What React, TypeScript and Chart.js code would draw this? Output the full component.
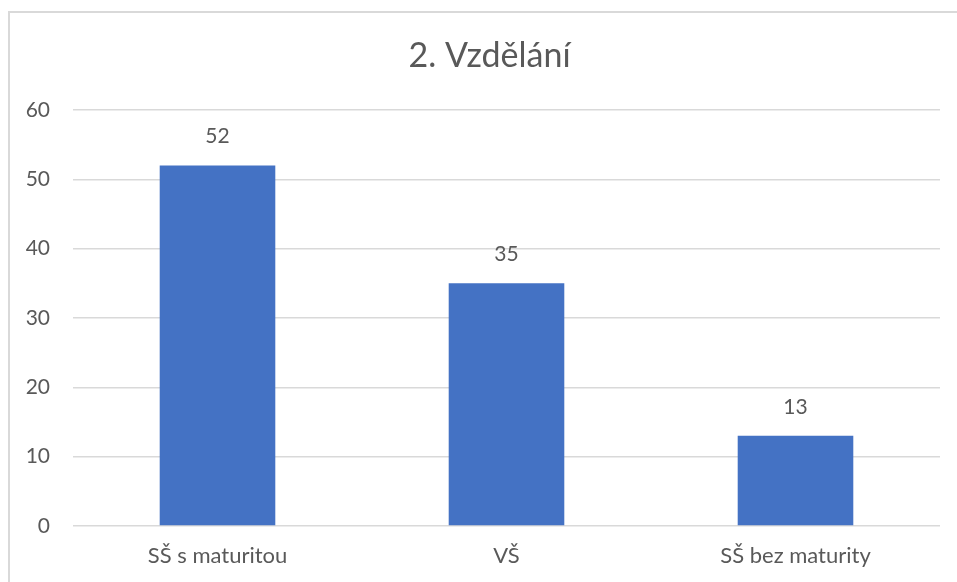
import React, { useEffect, useRef } from "react";
import { Chart, registerables } from "chart.js";

Chart.register(...registerables);

const title = "2. Vzdělání";
const categories = ["SŠ s maturitou", "VŠ", "SŠ bez maturity"];
const values = [52, 35, 13];
const yMin = 0;
const yMax = 60;
const yStep = 10;

const FONT = "Lato";
const TEXT = "#595959";
const GRID = "#d9d9d9";
const BAR = "#4472C4";

const dataLabels = {
  id: "dataLabels",
  afterDatasetsDraw(chart: any) {
    const ctx = chart.ctx;
    const meta = chart.getDatasetMeta(0);
    ctx.save();
    ctx.font = `21px ${FONT}`;
    ctx.fillStyle = TEXT;
    ctx.textAlign = "center";
    ctx.textBaseline = "alphabetic";
    meta.data.forEach((el: any, i: number) => {
      ctx.fillText(String(chart.data.datasets[0].data[i]), el.x, el.y - 22);
    });
    ctx.restore();
  },
};

const titlePlugin = {
  id: "chartTitle",
  afterDraw(chart: any) {
    const ctx = chart.ctx;
    ctx.save();
    ctx.font = `34px ${FONT}`;
    ctx.fillStyle = TEXT;
    ctx.textAlign = "center";
    ctx.textBaseline = "alphabetic";
    ctx.fillText(title, 489.5, 67);
    ctx.restore();
  },
};

export default function App() {
  const ref = useRef<HTMLCanvasElement | null>(null);
  useEffect(() => {
    if (!ref.current) return;
    const chart = new Chart(ref.current, {
      type: "bar",
      data: {
        labels: categories,
        datasets: [
          {
            data: values,
            backgroundColor: BAR,
            barPercentage: 0.4,
            categoryPercentage: 1.0,
          },
        ],
      },
      options: {
        animation: false,
        responsive: false,
        devicePixelRatio: 1,
        layout: { padding: { left: 0, right: 17, top: 110, bottom: 0 } },
        plugins: {
          legend: { display: false },
          tooltip: { enabled: false },
          title: { display: false },
        },
        scales: {
          x: {
            grid: { display: false },
            border: { display: false },
            ticks: {
              color: TEXT,
              font: { family: FONT, size: 22 },
              padding: 9,
              maxRotation: 0,
            },
            afterFit: (s: any) => {
              s.height = 56;
            },
          },
          y: {
            min: yMin,
            max: yMax,
            grid: { color: GRID, lineWidth: 1.5, drawTicks: false },
            border: { display: false },
            ticks: {
              stepSize: yStep,
              color: TEXT,
              font: { family: FONT, size: 21 },
              padding: 23,
            },
            afterFit: (s: any) => {
              s.width = 73;
            },
          },
        },
      },
      plugins: [dataLabels, titlePlugin],
    });
    return () => chart.destroy();
  }, []);

  return (
    <div
      style={{
        position: "absolute",
        left: 0,
        top: 0,
        width: 957,
        height: 582,
        overflow: "hidden",
        background: "#ffffff",
      }}
    >
      <div
        style={{
          position: "absolute",
          left: 8,
          top: 11,
          width: 2000,
          height: 2000,
          border: `2px solid ${GRID}`,
          boxSizing: "border-box",
        }}
      />
      <canvas
        ref={ref}
        width={957}
        height={582}
        style={{ position: "absolute", left: 0, top: 0, width: 957, height: 582 }}
      />
    </div>
  );
}
